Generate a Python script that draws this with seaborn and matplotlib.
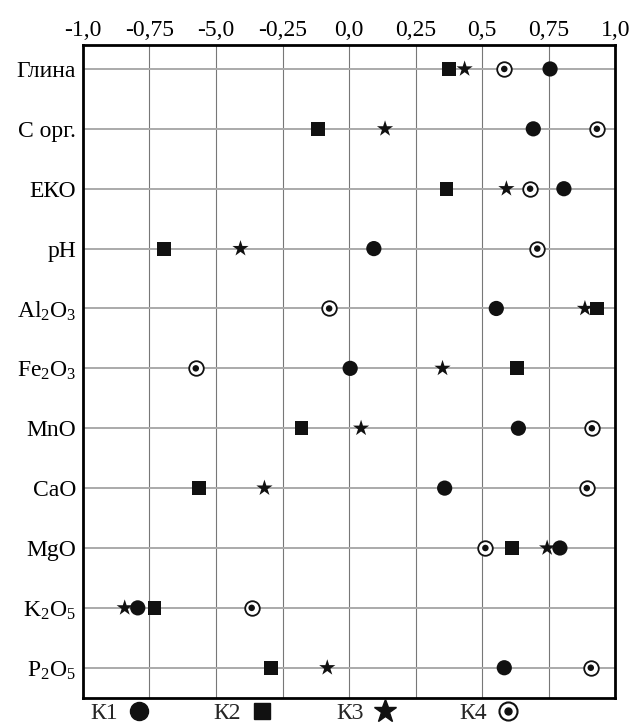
import seaborn as sns
import numpy as np
import pandas as pd
import matplotlib.pyplot as plt
from matplotlib.lines import Line2D
from matplotlib.legend_handler import HandlerTuple

# Parameters (rows, top to bottom)
params = ['Глина', 'С орг.', 'ЕКО', 'pH', 'Al$_2$O$_3$', 'Fe$_2$O$_3$',
          'MnO', 'CaO', 'MgO', 'K$_2$O$_5$', 'P$_2$O$_5$']

# Correlation values per group
k1 = [0.755, 0.692, 0.807, 0.093, 0.553, 0.004, 0.636, 0.359, 0.792, -0.794, 0.583]
k2 = [0.374, -0.116, 0.366, -0.695, 0.931, 0.632, -0.179, -0.564, 0.613, -0.731, -0.295]
k3 = [0.434, 0.135, 0.591, -0.408, 0.886, 0.351, 0.045, -0.318, 0.744, -0.843, -0.082]
k4 = [0.583, 0.931, 0.680, 0.707, -0.075, -0.576, 0.912, 0.893, 0.512, -0.366, 0.908]

xticks = [-1.0, -0.75, -0.5, -0.25, 0.0, 0.25, 0.5, 0.75, 1.0]
xticklabels = ['-1,0', '-0,75', '-5,0', '-0,25', '0,0', '0,25', '0,5', '0,75', '1,0']

sns.set_style("white")
plt.rcParams['font.family'] = ['Liberation Serif', 'DejaVu Serif']
plt.rcParams['mathtext.fontset'] = 'custom'
plt.rcParams['mathtext.rm'] = 'Liberation Serif'
plt.rcParams['mathtext.it'] = 'Liberation Serif'

fig = plt.figure(figsize=(6.33, 7.26), dpi=100)
ax = fig.add_axes([0.131, 0.039, 0.841, 0.899])

df = pd.DataFrame({'param': params, 'K1': k1, 'K2': k2, 'K3': k3, 'K4': k4})

sns.scatterplot(data=df, x='K1', y='param', marker='o', s=120, color='#111111',
                edgecolor='none', ax=ax, zorder=3)
sns.scatterplot(data=df, x='K2', y='param', marker='s', s=100, color='#111111',
                edgecolor='none', ax=ax, zorder=3)
sns.scatterplot(data=df, x='K3', y='param', marker='*', s=150, color='#111111',
                edgecolor='none', ax=ax, zorder=3)
sns.scatterplot(data=df, x='K4', y='param', marker='o', s=110, color='white',
                edgecolor='#111111', linewidth=1.3, ax=ax, zorder=3)
sns.scatterplot(data=df, x='K4', y='param', marker='o', s=22, color='#111111',
                edgecolor='none', ax=ax, zorder=4)

ax.set_xlim(-1, 1)
ax.set_ylim(10.5, -0.4)
ax.set_xticks(xticks)
ax.set_xticklabels(xticklabels)
ax.xaxis.tick_top()
ax.tick_params(axis='both', length=0, labelsize=17, colors='black')
ax.tick_params(axis='x', pad=3)
ax.tick_params(axis='y', pad=5)
ax.set_xlabel('')
ax.set_ylabel('')

ax.grid(axis='x', color='#777777', linewidth=0.8)
ax.grid(axis='y', color='#aaaaaa', linewidth=1.4)
ax.set_axisbelow(True)
for sp in ax.spines.values():
    sp.set_color('black')
    sp.set_linewidth(2)

# Legend below the chart
h1 = Line2D([], [], marker='o', ls='', color='#111111', markersize=13)
h2 = Line2D([], [], marker='s', ls='', color='#111111', markersize=12)
h3 = Line2D([], [], marker='*', ls='', color='#111111', markersize=17)
h4a = Line2D([], [], marker='o', ls='', markerfacecolor='white',
             markeredgecolor='#111111', markeredgewidth=1.5, markersize=13)
h4b = Line2D([], [], marker='o', ls='', color='#111111', markersize=5)
fig.legend([h1, h2, h3, (h4a, h4b)], ['К1', 'К2', 'К3', 'К4'],
           handler_map={tuple: HandlerTuple(ndivide=1)},
           loc='center left', bbox_to_anchor=(0.142, 0.017), ncol=4,
           frameon=False, markerfirst=False, fontsize=17,
           columnspacing=2.55, handletextpad=0.3, handlelength=1.2,
           borderpad=0, borderaxespad=0)

plt.savefig('out.png', dpi=100)
